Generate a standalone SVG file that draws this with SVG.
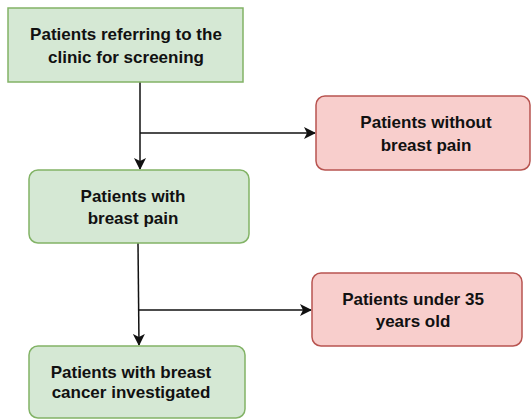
<svg xmlns="http://www.w3.org/2000/svg" width="531" height="419" viewBox="0 0 531 419">
<defs>
<style>
.g{fill:#d5e8d4;stroke:#82b366;stroke-width:1.5}
.r{fill:#f8cecc;stroke:#b85450;stroke-width:1.5}
.t{font-family:"Liberation Sans",Arial,sans-serif;font-weight:bold;font-size:17px;fill:#111;text-anchor:middle}
.e{fill:none;stroke:#111;stroke-width:1.5}
</style>
<marker id="a" viewBox="0 0 12 12" refX="11" refY="6" markerWidth="12" markerHeight="12" markerUnits="userSpaceOnUse" orient="auto">
<path d="M0,0 L12,6 L0,12 L3,6 Z" fill="#111"/>
</marker>
</defs>
<rect width="531" height="419" fill="#fff"/>
<g id="connectors">
<path class="e" d="M140,82 L140,169" marker-end="url(#a)"/>
<path class="e" d="M140,133 L315,133" marker-end="url(#a)"/>
<path class="e" d="M138,243 L139,345" marker-end="url(#a)"/>
<path class="e" d="M139,310 L311,310" marker-end="url(#a)"/>
</g>
<g id="n1">
<rect class="g" x="8" y="8" width="235" height="74"/>
<text class="t" x="126" y="40">Patients referring to the</text>
<text class="t" x="126" y="63">clinic for screening</text>
</g>
<g id="n2">
<rect class="r" x="316" y="96" width="214" height="74" rx="9"/>
<text class="t" x="426" y="128">Patients without</text>
<text class="t" x="426" y="151">breast pain</text>
</g>
<g id="n3">
<rect class="g" x="29" y="170" width="220" height="73" rx="9"/>
<text class="t" x="133" y="202">Patients with</text>
<text class="t" x="133" y="224">breast pain</text>
</g>
<g id="n4">
<rect class="r" x="312" y="273" width="210" height="73" rx="9"/>
<text class="t" x="413" y="305">Patients under 35</text>
<text class="t" x="413" y="327">years old</text>
</g>
<g id="n5">
<rect class="g" x="29" y="346" width="216" height="72" rx="9"/>
<text class="t" x="131" y="378">Patients with breast</text>
<text class="t" x="131" y="398">cancer investigated</text>
</g>
</svg>
